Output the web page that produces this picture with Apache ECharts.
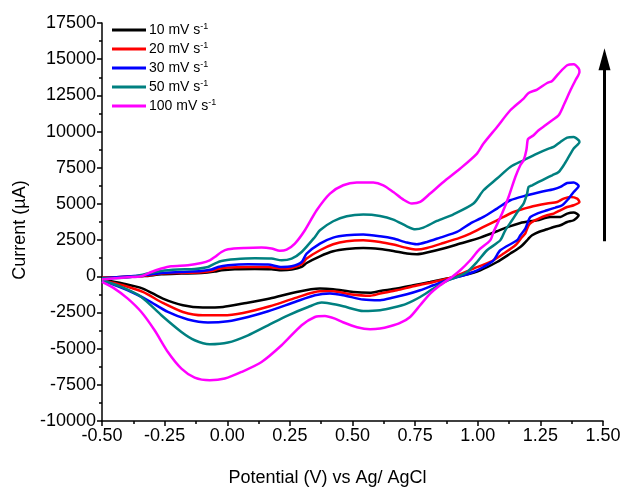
<!DOCTYPE html>
<html>
<head>
<meta charset="utf-8">
<script src="https://cdn.jsdelivr.net/npm/echarts@6/dist/echarts.min.js"></script>
<style>
  html, body { margin: 0; padding: 0; background: #fff; }
  #chart { width: 625px; height: 487px; }
</style>
</head>
<body>
<div id="chart"></div>
<script>
// Cyclic voltammograms: [potential (V vs Ag/AgCl), current (µA)]
// Forward sweep from -0.5 V to 1.4 V, then the reverse sweep back.
const scanRates = [10, 20, 30, 50, 100];

const cv10 = [
  [-0.5,-104],[-0.33,14],[-0.263,138],[-0.183,187],[-0.103,228],[-0.05,325],[-0.023,415],[0.03,484],[0.11,504],
  [0.177,484],[0.217,415],[0.257,463],[0.297,643],[0.317,919],[0.37,1382],[0.423,1728],[0.477,1886],[0.543,1956],
  [0.61,1886],[0.663,1748],[0.717,1569],[0.757,1520],[0.797,1638],[0.863,1914],[0.93,2260],[1.01,2674],[1.077,3110],
  [1.103,3296],[1.17,3683],[1.237,3870],[1.29,4098],[1.33,4098],[1.357,4333],[1.383,4402],[1.403,4215],
  [1.383,3870],[1.357,3752],[1.33,3524],[1.303,3407],[1.277,3248],[1.243,3061],[1.217,2833],[1.203,2605],[1.197,2488],
  [1.17,2025],[1.13,1569],[1.077,988],[1.01,415],[0.943,69],[0.877,-159],[0.81,-394],[0.743,-622],[0.677,-850],
  [0.61,-1016],[0.57,-1140],[0.503,-1085],[0.423,-898],[0.37,-850],[0.277,-1085],[0.17,-1541],[0.063,-1886],
  [-0.017,-2121],[-0.097,-2163],[-0.177,-2004],[-0.257,-1541],[-0.337,-850],[-0.417,-504],[-0.5,-228]
];

const cv20 = [
  [-0.5,-104],[-0.33,35],[-0.263,187],[-0.183,228],[-0.103,276],[-0.063,366],[-0.037,504],[0.003,601],[0.083,643],
  [0.163,643],[0.217,532],[0.257,574],[0.297,829],[0.317,1223],[0.37,1797],[0.423,2211],[0.477,2419],[0.543,2488],
  [0.61,2370],[0.663,2190],[0.717,1956],[0.757,1845],[0.797,1956],[0.863,2301],[0.93,2674],[0.97,2951],[1.023,3407],
  [1.077,3870],[1.143,4443],[1.21,4789],[1.277,5024],[1.317,5134],[1.343,5369],[1.37,5480],[1.397,5369],[1.406,5134],
  [1.383,4906],[1.357,4789],[1.33,4561],[1.303,4333],[1.277,4215],[1.243,3987],[1.217,3752],[1.203,3524],[1.19,2971],
  [1.177,2716],[1.15,2142],[1.103,1569],[1.05,988],[0.983,532],[0.903,-48],[0.823,-394],[0.743,-691],[0.677,-967],
  [0.61,-1195],[0.57,-1347],[0.49,-1244],[0.423,-1037],[0.37,-1037],[0.277,-1472],[0.17,-2073],[0.063,-2536],
  [-0.017,-2695],[-0.097,-2695],[-0.177,-2467],[-0.257,-1845],[-0.337,-1085],[-0.417,-622],[-0.5,-276]
];

const cv30 = [
  [-0.5,-138],[-0.33,69],[-0.263,228],[-0.183,297],[-0.103,366],[-0.063,463],[-0.037,643],[0.003,760],[0.083,829],
  [0.163,808],[0.217,643],[0.257,691],[0.297,988],[0.317,1569],[0.37,2260],[0.423,2674],[0.477,2833],[0.543,2881],
  [0.61,2764],[0.663,2605],[0.717,2329],[0.757,2211],[0.797,2370],[0.85,2674],[0.917,3061],[0.97,3642],[1.023,4098],
  [1.077,4678],[1.13,5252],[1.197,5597],[1.25,5825],[1.303,6012],[1.33,6171],[1.357,6447],[1.383,6475],[1.403,6240],
  [1.383,5825],[1.363,5369],[1.337,4906],[1.31,4747],[1.277,4561],[1.237,4333],[1.21,4098],[1.203,3870],[1.19,3296],
  [1.17,2833],[1.157,2488],[1.09,1797],[1.063,1106],[1.023,643],[0.983,297],[0.93,0],[0.877,-276],[0.823,-622],
  [0.77,-967],[0.717,-1244],[0.663,-1472],[0.61,-1658],[0.543,-1610],[0.463,-1313],[0.41,-1195],[0.35,-1313],
  [0.27,-1776],[0.163,-2419],[0.083,-2812],[0.003,-3110],[-0.077,-3199],[-0.157,-2992],[-0.237,-2467],[-0.317,-1658],
  [-0.397,-967],[-0.5,-276]
];

const cv50 = [
  [-0.5,-159],[-0.397,-90],[-0.33,138],[-0.263,366],[-0.197,463],[-0.13,504],[-0.077,643],[-0.05,878],[-0.023,1057],
  [0.03,1175],[0.11,1244],[0.177,1223],[0.217,1106],[0.257,1223],[0.297,1679],[0.35,2716],[0.37,3179],[0.423,3801],
  [0.477,4146],[0.543,4264],[0.61,4167],[0.663,3918],[0.717,3455],[0.75,3248],[0.783,3365],[0.837,3821],[0.903,4284],
  [0.983,5024],[1.023,5943],[1.077,6751],[1.13,7553],[1.183,8016],[1.237,8479],[1.283,8824],[1.303,8935],[1.33,9280],
  [1.357,9584],[1.383,9626],[1.403,9398],[1.406,9280],
  [1.383,8824],[1.363,8244],[1.343,7670],[1.323,7207],[1.297,6979],[1.27,6751],[1.243,6516],[1.217,6288],[1.203,6171],
  [1.197,5715],[1.183,5024],[1.163,4561],[1.137,3870],[1.11,3179],[1.09,2488],[1.037,1797],[0.997,988],[0.957,297],
  [0.917,-48],[0.877,-325],[0.823,-850],[0.77,-1430],[0.717,-1886],[0.663,-2163],[0.61,-2349],[0.543,-2398],
  [0.463,-2073],[0.41,-1886],[0.377,-1817],[0.323,-2121],[0.243,-2695],[0.163,-3386],[0.083,-4077],[0.003,-4581],
  [-0.07,-4699],[-0.13,-4422],[-0.183,-3849],[-0.263,-2695],[-0.343,-1430],[-0.423,-739],[-0.5,-276]
];

const cv100 = [
  [-0.5,-228],[-0.45,-138],[-0.398,-69],[-0.343,0],[-0.303,297],[-0.263,532],[-0.223,691],[-0.157,760],[-0.103,919],
  [-0.07,1106],[-0.05,1334],[-0.023,1679],[0.003,1866],[0.07,1956],[0.137,1983],[0.177,1914],[0.21,1762],[0.237,1845],
  [0.27,2260],[0.31,3179],[0.357,4561],[0.41,5715],[0.463,6288],[0.517,6475],[0.583,6475],[0.623,6288],[0.663,5825],
  [0.703,5300],[0.737,5024],[0.77,5134],[0.81,5715],[0.863,6516],[0.93,7442],[0.997,8479],[1.023,9170],[1.077,10317],
  [1.13,11471],[1.183,12279],[1.203,12666],[1.237,12901],[1.277,13357],[1.297,13495],[1.323,14007],[1.357,14580],
  [1.383,14649],[1.403,14352],[1.406,14117],
  [1.39,13544],[1.37,12853],[1.343,11816],[1.323,11125],[1.297,10780],[1.27,10434],[1.243,10089],[1.223,9743],
  [1.203,9515],[1.199,9398],[1.194,8707],[1.183,8016],[1.17,7670],[1.15,6862],[1.123,5480],[1.097,4332],[1.063,3061],
  [1.05,2488],[1.003,1797],[0.97,1106],[0.93,415],[0.897,-48],[0.85,-622],[0.81,-1195],[0.77,-2004],[0.73,-2812],
  [0.69,-3227],[0.65,-3455],[0.61,-3614],[0.57,-3662],[0.518,-3524],[0.462,-3179],[0.43,-2923],[0.39,-2743],
  [0.35,-2812],[0.297,-3386],[0.217,-4768],[0.137,-5922],[0.057,-6613],[-0.01,-7069],[-0.07,-7186],[-0.13,-7000],
  [-0.183,-6378],[-0.237,-5231],[-0.29,-3731],[-0.343,-2467],[-0.397,-1541],[-0.45,-850],[-0.5,-394]
];

const curves = [cv10, cv20, cv30, cv50, cv100];
const colors = ['#000000', '#ff0000', '#0000ff', '#008080', '#ff00ff'];

// Axis ranges and tick steps
const xMin = -0.5, xMax = 1.5, xStep = 0.25;
const yMin = -10000, yMax = 17500, yStep = 2500;

// Arrow showing increasing scan rate (potential, current)
const arrowX = 1.506, arrowFrom = 2420, arrowTo = 15750;

const FONT = '"Liberation Sans", Arial, sans-serif';
const chart = echarts.init(document.getElementById('chart'), null, { renderer: 'canvas' });

const names = scanRates.map(r => r + ' mV s-1');

const axisCommon = {
  axisLine: { show: true, onZero: false, lineStyle: { color: '#000', width: 1.5 } },
  axisTick: { show: true, inside: false, length: 5, lineStyle: { color: '#000', width: 1.5 } },
  minorTick: { show: true, splitNumber: 2, length: 3, lineStyle: { color: '#000', width: 1.5 } },
  splitLine: { show: false },
  axisLabel: { color: '#000', fontFamily: FONT, fontSize: 18, margin: 6 }
};

chart.setOption({
  animation: false,
  backgroundColor: '#fff',
  grid: { left: 102, right: 22, top: 23, bottom: 66, containLabel: false, outerBoundsMode: 'none' },
  legend: {
    data: names,
    orient: 'vertical',
    left: 107,
    top: 17,
    icon: 'rect',
    itemWidth: 34,
    itemHeight: 3,
    itemGap: 4,
    formatter: n => '{t|' + n.replace(' s-1', ' s') + '}{sup|-1}',
    textStyle: {
      color: '#000',
      fontFamily: FONT,
      padding: [0, 0, 0, -2],
      rich: {
        t: { fontSize: 14, lineHeight: 16, fontFamily: FONT, color: '#000' },
        sup: { fontSize: 9, lineHeight: 10, verticalAlign: 'top', fontFamily: FONT, color: '#000' }
      }
    }
  },
  xAxis: Object.assign({}, axisCommon, {
    type: 'value', min: xMin, max: xMax, interval: xStep,
    name: 'Potential (V) vs Ag/ AgCl',
    nameLocation: 'middle',
    nameGap: 48,
    nameTextStyle: { color: '#000', fontFamily: FONT, fontSize: 18, padding: [0, 50, 0, 0] },
    axisLabel: Object.assign({}, axisCommon.axisLabel, { formatter: v => v.toFixed(2) })
  }),
  yAxis: Object.assign({}, axisCommon, {
    type: 'value', min: yMin, max: yMax, interval: yStep,
    name: 'Current (\u00b5A)',
    nameLocation: 'middle',
    nameGap: 70,
    nameTextStyle: { color: '#000', fontFamily: FONT, fontSize: 18, padding: [0, 16, 0, 0] },
    axisLabel: Object.assign({}, axisCommon.axisLabel, { formatter: v => String(v) })
  }),
  series: curves.map((d, i) => ({
    name: names[i],
    type: 'line',
    data: d,
    smooth: 0.25,
    showSymbol: false,
    symbol: 'none',
    clip: true,
    lineStyle: { color: colors[i], width: 2.5 },
    itemStyle: { color: colors[i] },
    z: 2 + i
  }))
});

// Arrow placed in data coordinates
const p0 = chart.convertToPixel({ gridIndex: 0 }, [arrowX, arrowFrom]);
const p1 = chart.convertToPixel({ gridIndex: 0 }, [arrowX, arrowTo]);
const headH = 22, headW = 6;
chart.setOption({
  graphic: [
    {
      type: 'line',
      shape: { x1: p0[0], y1: p0[1], x2: p1[0], y2: p1[1] + headH - 2 },
      style: { stroke: '#000', lineWidth: 3 }
    },
    {
      type: 'polygon',
      shape: { points: [[p1[0], p1[1]], [p1[0] - headW, p1[1] + headH], [p1[0] + headW, p1[1] + headH]] },
      style: { fill: '#000' }
    }
  ]
});
</script>
</body>
</html>
